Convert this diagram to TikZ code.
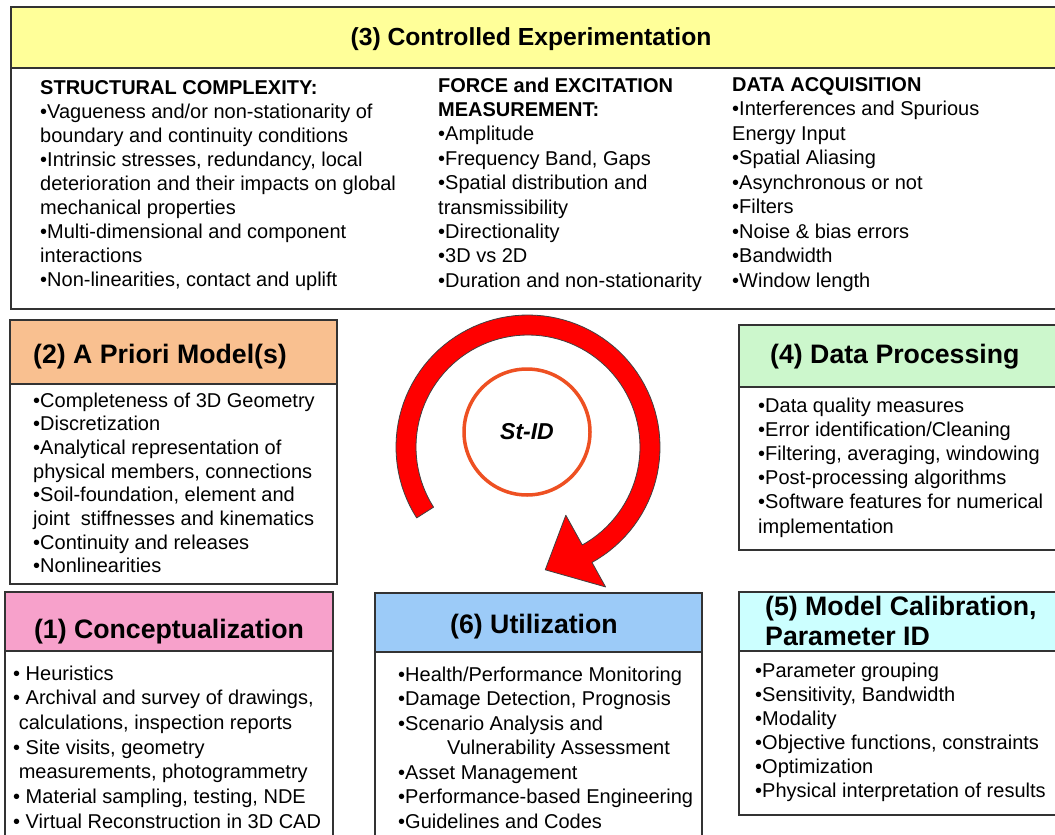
\documentclass[tikz,border=0pt]{standalone}
\usepackage{fontspec}
\setmainfont{Liberation Sans}
\definecolor{hdryellow}{HTML}{FFFF99}
\definecolor{hdrpeach}{HTML}{F9C090}
\definecolor{hdrgreen}{HTML}{CCF7CC}
\definecolor{hdrpink}{HTML}{F7A1CB}
\definecolor{hdrblue}{HTML}{9CCBF8}
\definecolor{hdrcyan}{HTML}{CCFFFF}
\definecolor{framegray}{HTML}{333333}
\definecolor{cyclered}{HTML}{FF0000}
\definecolor{ringorange}{HTML}{EE5022}
% one block of lines, its baseline at the first line
\newcommand\lineblock[1]{\begin{tabular}[t]{@{}l@{}}#1\end{tabular}}
\tikzset{
  frame/.style={draw=framegray, line width=1.5pt, fill=white},
  header/.style={draw=framegray, line width=1.5pt},
  bodytext/.style={anchor=base west, inner sep=0pt, font=\fontsize{20}{#1}\selectfont},
  bodytext/.default=24,
  titletext/.style={inner sep=0pt, font=\fontsize{26.7}{30}\selectfont\bfseries},
}
\begin{document}
\begin{tikzpicture}[x=1pt, y=-1pt]
\useasboundingbox (0,0) rectangle (1055,835);
\clip (0,0) rectangle (1055,835);
\fill[white] (0,0) rectangle (1055,835);

% (3) Controlled Experimentation
\draw[frame] (11,7) rectangle (1070,309);
\draw[header, fill=hdryellow] (11,7) rectangle (1070,68);
\node[inner sep=0pt, anchor=base, font=\fontsize{24.7}{28}\selectfont\bfseries] (t3) at (531,45) {(3) Controlled Experimentation};
\node[bodytext=24.1] (c3a) at (40,94) {\lineblock{%
\textbf{STRUCTURAL COMPLEXITY:}\\
•Vagueness and/or non-stationarity of\\
boundary and continuity conditions\\
•Intrinsic stresses, redundancy, local\\
deterioration and their impacts on global\\
mechanical properties\\
•Multi-dimensional and component\\
interactions\\
•Non-linearities, contact and uplift}};
\node[bodytext=24.4] (c3b) at (438,92) {\lineblock{%
\textbf{FORCE and EXCITATION}\\
\textbf{MEASUREMENT:}\\
•Amplitude\\
•Frequency Band, Gaps\\
•Spatial distribution and\\
transmissibility\\
•Directionality\\
•3D vs 2D\\
•Duration and non-stationarity}};
\node[bodytext=24.5] (c3c) at (732,91) {\lineblock{%
\textbf{DATA ACQUISITION}\\
•Interferences and Spurious\\
Energy Input\\
•Spatial Aliasing\\
•Asynchronous or not\\
•Filters\\
•Noise \& bias errors\\
•Bandwidth\\
•Window length}};

% (2) A Priori Model(s)
\draw[frame] (10,320) rectangle (337,584);
\draw[header, fill=hdrpeach] (10,320) rectangle (337,384);
\node[titletext, anchor=base west] (t2) at (33,363) {(2) A Priori Model(s)};
\node[bodytext=23.7] (b2) at (33,407) {\lineblock{%
•Completeness of 3D Geometry\\
•Discretization\\
•Analytical representation of\\
physical members, connections\\
•Soil-foundation, element and\\
joint\ \ stiffnesses and kinematics\\
•Continuity and releases\\
•Nonlinearities}};

% (4) Data Processing
\draw[frame] (739,325) rectangle (1070,550);
\draw[header, fill=hdrgreen] (739,325) rectangle (1070,387);
\node[titletext, anchor=base west] (t4) at (770,363) {(4) Data Processing};
\node[bodytext=24.2] (b4) at (758,412) {\lineblock{%
•Data quality measures\\
•Error identification/Cleaning\\
•Filtering, averaging, windowing\\
•Post-processing algorithms\\
•Software features for numerical\\
implementation}};

% (1) Conceptualization
\draw[frame] (5,592) rectangle (333,860);
\draw[header, fill=hdrpink] (5,592) rectangle (333,651);
\node[titletext, anchor=base] (t1) at (169,638) {(1) Conceptualization};
\node[bodytext=24.7] (b1) at (13,680) {\lineblock{%
• Heuristics\\
• Archival and survey of drawings,\\
\ calculations, inspection reports\\
• Site visits, geometry\\
\ measurements, photogrammetry\\
• Material sampling, testing, NDE\\
• Virtual Reconstruction in 3D CAD}};

% (6) Utilization
\draw[frame] (375,593) rectangle (702,860);
\draw[header, fill=hdrblue] (375,593) rectangle (702,652);
\node[titletext, anchor=base] (t6) at (534,633) {(6) Utilization};
\node[bodytext=24.5] (b6) at (398,681) {\lineblock{%
•Health/Performance Monitoring\\
•Damage Detection, Prognosis\\
•Scenario Analysis and\\
\hspace*{49pt}Vulnerability Assessment\\
•Asset Management\\
•Performance-based Engineering\\
•Guidelines and Codes}};

% (5) Model Calibration, Parameter ID
\draw[frame] (739,592) rectangle (1070,815);
\draw[header, fill=hdrcyan] (739,592) rectangle (1070,651);
\node[titletext, anchor=base west] (t5) at (765,615) {\lineblock{(5) Model Calibration,\\Parameter ID}};
\node[bodytext=24] (b5) at (755,677) {\lineblock{%
•Parameter grouping\\
•Sensitivity, Bandwidth\\
•Modality\\
•Objective functions, constraints\\
•Optimization\\
•Physical interpretation of results}};

% St-ID cycle: circular red arrow around the centre ring
\filldraw[fill=cyclered, draw=black!75, line width=0.8pt, line join=round]
  plot[domain=147.5:421, samples=90] ({528+132*cos(\x)}, {447+132*sin(\x)})
  -- ({528+160*cos(421)}, {447+160*sin(421)})
  -- ({528+124*cos(442)}, {447+124*sin(442)})
  -- ({528+78*cos(421)}, {447+78*sin(421)})
  -- ({528+112*cos(421)}, {447+112*sin(421)})
  -- plot[domain=421:147.5, samples=90] ({528+112*cos(\x)}, {447+112*sin(\x)})
  -- cycle;
\node[circle, draw=ringorange, line width=3.5pt, fill=white, minimum size=126pt, inner sep=0pt] (ring) at (527,432) {};
\node[inner sep=0pt, font=\fontsize{23}{26}\selectfont\bfseries\itshape] (stid) at (ring.center) {St-ID};
\end{tikzpicture}
\end{document}
